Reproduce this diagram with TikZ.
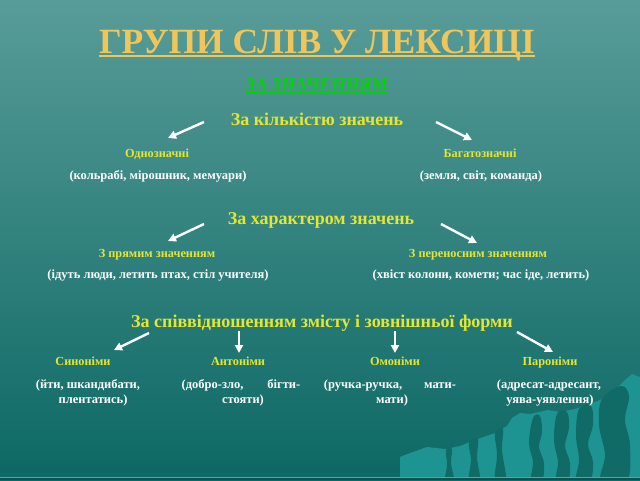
\documentclass[tikz,border=0pt]{standalone}
\usepackage{fontspec}
\setmainfont{Liberation Serif}
\usetikzlibrary{arrows.meta}
\definecolor{bgtop}{RGB}{88,156,152}
\definecolor{bgbot}{RGB}{12,104,100}
\definecolor{lightteal}{RGB}{30,148,146}
\definecolor{darkband}{RGB}{16,106,102}
\definecolor{gold}{RGB}{240,198,90}
\definecolor{grn}{RGB}{0,215,0}
\definecolor{yel}{RGB}{228,230,48}
\tikzset{
  titletext/.style={font=\fontsize{35.5}{38}\selectfont\bfseries, text=gold, anchor=base, inner sep=0pt},
  subtext/.style={font=\fontsize{18}{20}\selectfont\bfseries\itshape, text=grn, anchor=base, inner sep=0pt},
  headtext/.style={font=\fontsize{18}{20}\selectfont\bfseries, text=yel, anchor=base, inner sep=0pt},
  itemtext/.style={font=\fontsize{12.3}{14}\selectfont\bfseries, text=yel, anchor=base, inner sep=0pt},
  extext/.style={font=\fontsize{12.5}{15}\selectfont\bfseries, text=white, anchor=base, inner sep=0pt, align=center},
  arr/.style={draw=white, line width=2.4pt, -{Triangle[length=8pt,width=8pt]}},
}
\begin{document}
\begin{tikzpicture}[x=1pt,y=-1pt]
% background
\shade[top color=bgtop, bottom color=bgbot] (0,0) rectangle (640,480);
\useasboundingbox (0,0) rectangle (640,480);
% decoration bottom right
\fill[lightteal] (400,480) -- (400,457) .. controls (410,453) .. (427,447) -- (445,449) -- (460,446) -- (475,440) -- (495,433) -- (507,426) -- (512,418) -- (520,413) -- (530,414) -- (548,410) -- (560,412) -- (575,409) -- (590,404) -- (605,398) -- (615,390) -- (625,380) -- (632,374) -- (640,377) -- (640,480) -- cycle;
\fill[darkband] plot[smooth cycle, tension=0.6] coordinates {(533,418) (540,416) (542,432) (539,447) (544,463) (542,481) (531,481) (533,462) (529,443)};
\fill[darkband] plot[smooth cycle, tension=0.6] coordinates {(557,414) (567,412) (569,428) (565,446) (570,463) (568,481) (556,481) (558,462) (554,440)};
\fill[darkband] plot[smooth cycle, tension=0.6] coordinates {(579,409) (591,406) (593,425) (588,444) (593,462) (590,481) (576,481) (579,460) (576,435)};
\fill[darkband] plot[smooth cycle, tension=0.6] coordinates {(602,399) (621,386) (629,396) (625,420) (630,445) (627,481) (601,481) (605,455) (599,425)};
\fill[darkband] plot[smooth cycle, tension=0.6] coordinates {(446,450) (452,449) (451,463) (454,481) (445,481) (447,465)};
\fill[darkband] plot[smooth cycle, tension=0.6] coordinates {(469,443) (478,439) (477,458) (480,481) (469,481) (471,460)};
\fill[darkband] plot[smooth cycle, tension=0.6] coordinates {(495,433) (503,429) (502,450) (506,481) (495,481) (497,455)};
\draw[color=lightteal!80!white, line width=1pt] (0,477.5) -- (640,477.5);
\fill[bgbot!80!black] (0,478) rectangle (640,480);
% title
\node[titletext] (title) at (317,53) {ГРУПИ СЛІВ У ЛЕКСИЦІ};
\draw[gold, line width=2pt] ([yshift=-3pt]title.base west) -- ([yshift=-3pt]title.base east);
\node[subtext] (sub) at (317,90) {ЗА ЗНАЧЕННЯМ};
\draw[grn, line width=1pt] ([yshift=-2.5pt]sub.base west) -- ([yshift=-2.5pt]sub.base east);
% group 1
\node[headtext] (h1) at (317,125) {За кількістю значень};
\node[itemtext] (i11) at (157,157) {Однозначні};
\node[itemtext] (i12) at (480,157) {Багатозначні};
\node[extext] (e11) at (158,179) {(кольрабі, мірошник, мемуари)};
\node[extext] (e12) at (481,179) {(земля, світ, команда)};
\coordinate (a11s) at (204,122); \coordinate (a11e) at (168,138);
\coordinate (a12s) at (436,122); \coordinate (a12e) at (472,140);
\draw[arr] (a11s) -- (a11e);
\draw[arr] (a12s) -- (a12e);
% group 2
\node[headtext] (h2) at (321,224) {За характером значень};
\node[itemtext] (i21) at (157,257) {З прямим значенням};
\node[itemtext] (i22) at (478,257) {З переносним значенням};
\node[extext] (e21) at (158,278) {(ідуть люди, летить птах, стіл учителя)};
\node[extext] (e22) at (481,278) {(хвіст колони, комети; час іде, летить)};
\coordinate (a21s) at (204,224); \coordinate (a21e) at (168,241);
\coordinate (a22s) at (441,224); \coordinate (a22e) at (477,243);
\draw[arr] (a21s) -- (a21e);
\draw[arr] (a22s) -- (a22e);
% group 3
\node[headtext] (h3) at (322,327) {За співвідношенням змісту і зовнішньої форми};
\node[itemtext] (i31) at (83,365) {Синоніми};
\node[itemtext] (i32) at (238,365) {Антоніми};
\node[itemtext] (i33) at (395,365) {Омоніми};
\node[itemtext] (i34) at (550,365) {Пароніми};
\node[extext] (e31) at (88,403) {(йти, шкандибати,\\\hspace*{10pt}плентатись)};
\node[extext] (e32) at (241,403) {(добро-зло,\hspace{24pt}бігти-\\\hspace*{4pt}стояти)};
\node[extext] (e33) at (390,403) {(ручка-ручка,\hspace{22pt}мати-\\\hspace*{4pt}мати)};
\node[extext] (e34) at (549,403) {(адресат-адресант,\\\hspace*{2pt}уява-уявлення)};
\coordinate (a31s) at (149,333); \coordinate (a31e) at (114,350);
\coordinate (a32s) at (239,331); \coordinate (a32e) at (239,353);
\coordinate (a33s) at (395,331); \coordinate (a33e) at (395,353);
\coordinate (a34s) at (517,332); \coordinate (a34e) at (553,352);
\draw[arr] (a31s) -- (a31e);
\draw[arr] (a32s) -- (a32e);
\draw[arr] (a33s) -- (a33e);
\draw[arr] (a34s) -- (a34e);
\end{tikzpicture}
\end{document}
